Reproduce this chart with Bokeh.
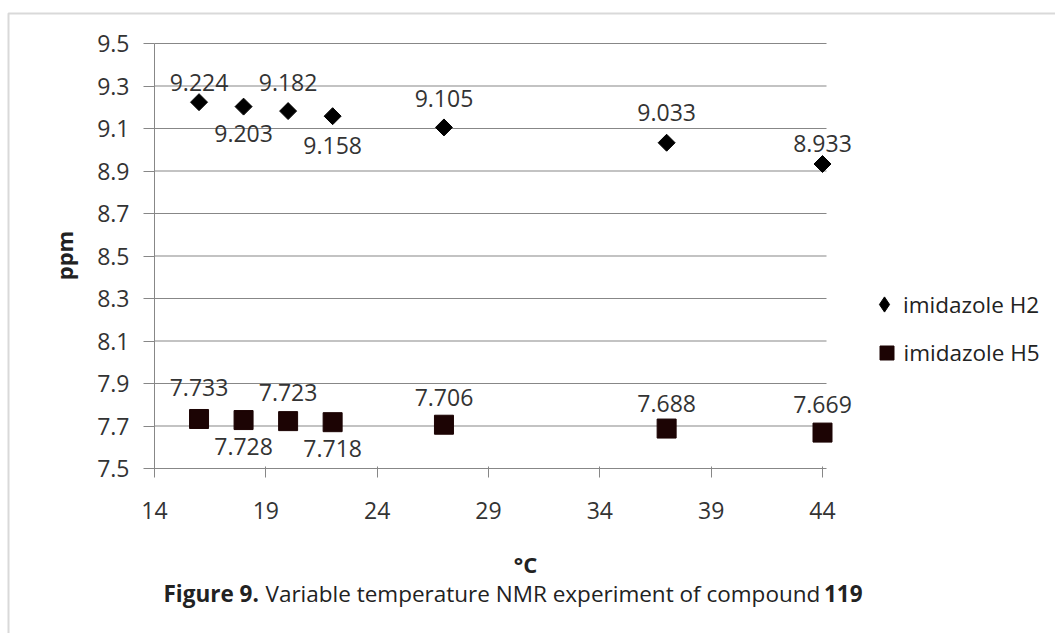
from bokeh.plotting import figure
from bokeh.models import (Range1d, FixedTicker, PrintfTickFormatter, Label,
                          BoxAnnotation, ColumnDataSource, Legend, LegendItem)
from bokeh.core.properties import value
from bokeh.embed import file_html
from bokeh.resources import INLINE
import numpy as np
import math

# ---------------- data ----------------
temps = [16, 18, 20, 22, 27, 37, 44]
h2 = [9.224, 9.203, 9.182, 9.158, 9.105, 9.033, 8.933]
h5 = [7.733, 7.728, 7.723, 7.718, 7.706, 7.688, 7.669]
series_names = ["imidazole H2", "imidazole H5"]
x_ticks = [14, 19, 24, 29, 34, 39, 44]
y_ticks = [7.5, 7.7, 7.9, 8.1, 8.3, 8.5, 8.7, 8.9, 9.1, 9.3, 9.5]
x_title = "°C"
y_title = "ppm"
caption_parts = ["Figure 9.", "Variable temperature NMR experiment of compound", "119"]

# ---------------- style / layout ----------------
W, H = 1055, 633
PL, PT, PR, PB = 154, 43, 822, 468     # pixel box of the plotting area (axes at PL / PB)
XMIN, XMAX, YMIN, YMAX = x_ticks[0], x_ticks[-1], y_ticks[0], y_ticks[-1]
PXU = (PR - PL) / (XMAX - XMIN)
PYU = (PB - PT) / (YMAX - YMIN)
FONT = "Open Sans"
GRID = "#878787"
TXT = "#333333"
DARK = "#222222"
H2_COLOR = "#000000"
H5_COLOR = "#1c0404"
h2_off = [-20, 27, -29, 29, -29, -30, -20]
h5_off = [-31, 26, -29, 26, -27, -25, -28]

def px2x(px):
    return XMIN + (px - PL) / PXU
def sx(px):   # screen units (frame == canvas, origin bottom-left)
    return px
def sy(py):
    return H - py

# the frame covers the whole canvas; the axes are pinned at the plot-area edges
p = figure(width=W, height=H, output_backend="svg", toolbar_location=None,
           x_range=Range1d(XMIN - PL / PXU, XMIN + (W - PL) / PXU),
           y_range=Range1d(YMIN - (H - PB) / PYU, YMIN + PB / PYU),
           min_border_left=0, min_border_right=0, min_border_top=0, min_border_bottom=0)
p.outline_line_color = None
p.background_fill_color = "white"
p.border_fill_color = "white"
p.xgrid.visible = False
p.ygrid.visible = False

# horizontal grid lines, ending just past the last x tick
p.segment(x0=[XMIN] * len(y_ticks), x1=[px2x(PR + 4)] * len(y_ticks),
          y0=y_ticks, y1=y_ticks, line_color=GRID, line_width=1)

xa, ya = p.xaxis[0], p.yaxis[0]
xa.fixed_location = YMIN
ya.fixed_location = XMIN
xa.ticker = FixedTicker(ticks=x_ticks)
xa.bounds = (XMIN, XMAX)
ya.ticker = FixedTicker(ticks=y_ticks)
ya.bounds = (YMIN, YMAX)
ya.formatter = PrintfTickFormatter(format="%.1f")
for ax in (xa, ya):
    ax.axis_line_color = GRID
    ax.major_tick_line_color = GRID
    ax.minor_tick_line_color = None
    ax.major_label_text_font = FONT
    ax.major_label_text_font_size = "23px"
    ax.major_label_text_color = TXT
xa.major_tick_in = 2
xa.major_tick_out = 9
xa.major_label_standoff = 24
ya.major_tick_in = 0
ya.major_tick_out = 11
ya.major_label_standoff = 14

src2 = ColumnDataSource(dict(x=temps, y=h2, t=["%.3f" % v for v in h2], off=h2_off))
src5 = ColumnDataSource(dict(x=temps, y=h5, t=["%.3f" % v for v in h5], off=h5_off))

r2 = p.scatter("x", "y", source=src2, marker="square", size=12, angle=math.pi / 4,
               fill_color=H2_COLOR, line_color=H2_COLOR)
r5 = p.scatter("x", "y", source=src5, marker="square", size=19,
               fill_color=H5_COLOR, line_color=H5_COLOR)
# legend-only stand-in for the diamond symbol (legend symbols are not rotated);
# its single point is NaN so nothing is drawn in the plot
r2_key = p.scatter(x=np.array([np.nan]), y=np.array([np.nan]), marker="diamond",
                   fill_color=H2_COLOR, line_color=H2_COLOR)

for src in (src2, src5):
    p.text("x", "y", text="t", source=src, y_offset="off",
           text_align="center", text_baseline="middle",
           text_font=value(FONT), text_font_size="23px", text_color=TXT)

# axis titles
p.add_layout(Label(x=sx(525), y=sy(563), x_units="screen", y_units="screen", text=x_title,
                   text_align="center", text_baseline="middle", text_font=FONT,
                   text_font_size="22px", text_font_style="bold", text_color=DARK))
p.add_layout(Label(x=sx(63), y=sy(255), x_units="screen", y_units="screen", text=y_title,
                   angle=math.pi / 2, text_align="center", text_baseline="middle",
                   text_font=FONT, text_font_size="22px", text_font_style="bold",
                   text_color=DARK))

# legends (one per series so each symbol gets its own size)
def make_legend(name, rend, cx, cy, g):
    return Legend(items=[LegendItem(label=name, renderers=[rend], index=0)],
                  location=(sx(cx - g / 2), sy(cy + g / 2)),
                  glyph_width=g, glyph_height=g, label_height=g, label_standoff=0,
                  padding=0, margin=0, spacing=0, border_line_color=None,
                  background_fill_alpha=0, label_text_font=FONT,
                  label_text_font_size="22.5px", label_text_color=DARK)
p.add_layout(make_legend(series_names[0], r2_key, 884, 304, 38))
p.add_layout(make_legend(series_names[1], r5, 886, 352, 35))

# outer border (top and left edges visible)
p.add_layout(BoxAnnotation(left=sx(8), right=sx(W + 40), top=sy(13), bottom=sy(H + 40),
                           left_units="screen", right_units="screen",
                           top_units="screen", bottom_units="screen",
                           fill_alpha=0, line_color="#808080", line_width=2))

# caption
cy = sy(593)
for txt, px, align, style in ((caption_parts[0], 163, "left", "bold"),
                              (caption_parts[1], 265, "left", "normal"),
                              (caption_parts[2], 862, "right", "bold")):
    p.add_layout(Label(x=sx(px), y=cy, x_units="screen", y_units="screen", text=txt,
                       text_align=align, text_baseline="middle", text_font=FONT,
                       text_font_size="22.5px", text_font_style=style, text_color=DARK))

open("out.html", "w").write(file_html(p, INLINE))
